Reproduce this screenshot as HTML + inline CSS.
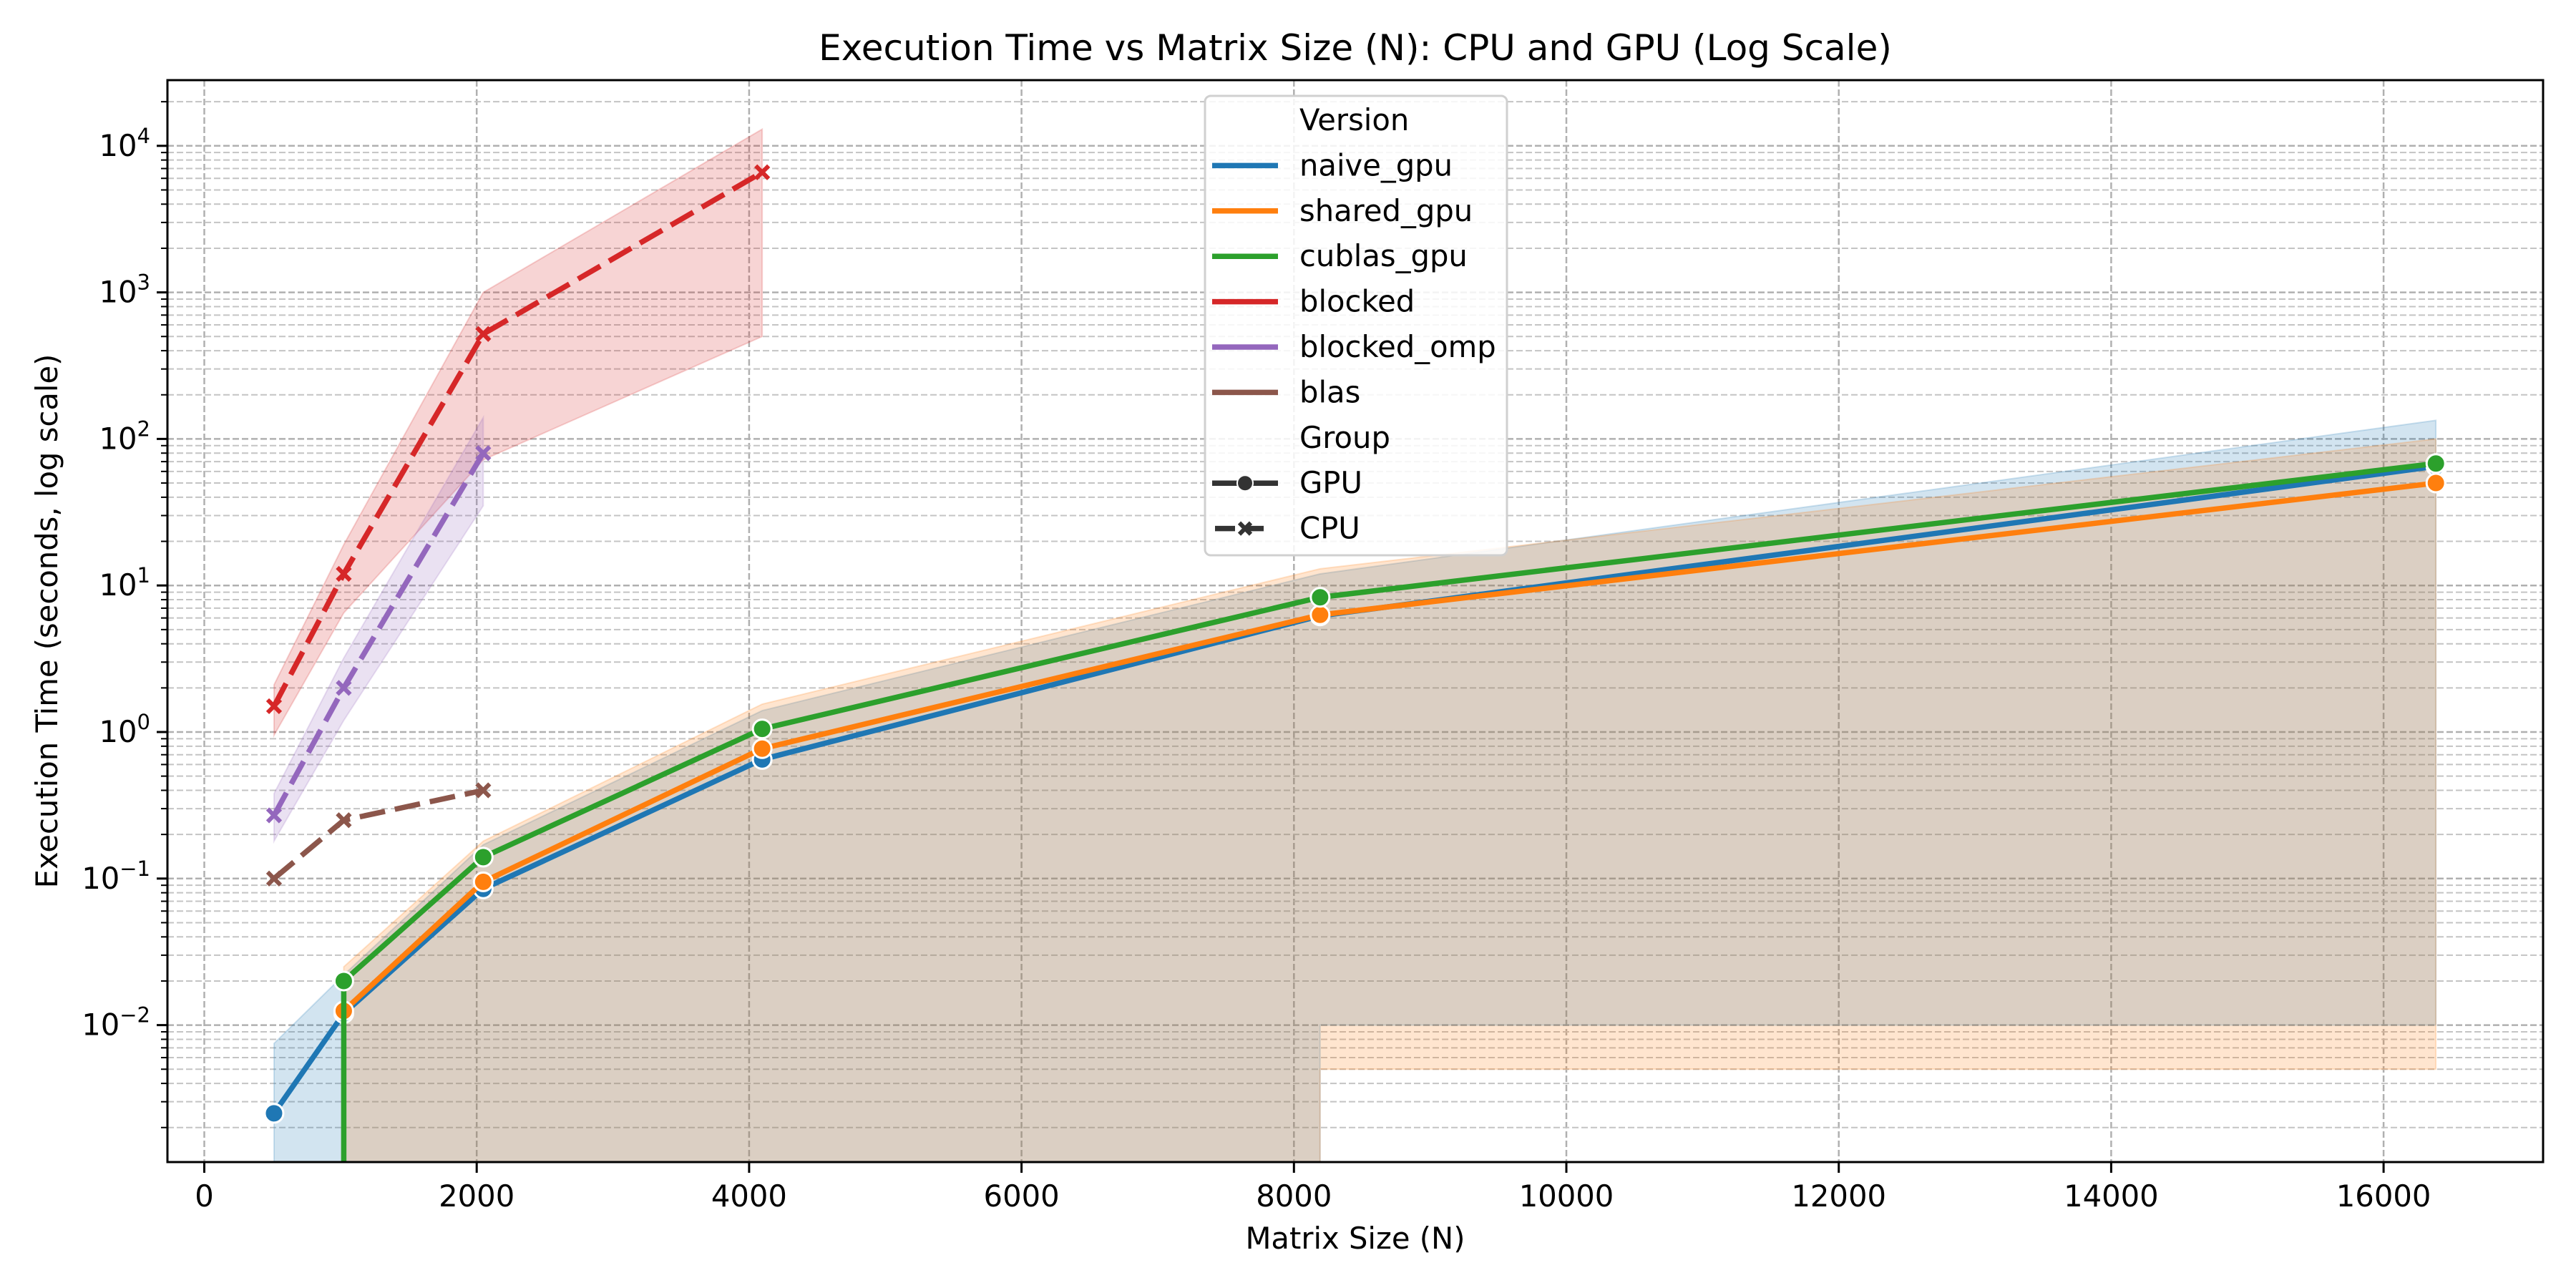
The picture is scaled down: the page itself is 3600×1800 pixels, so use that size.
<!DOCTYPE html>
<html><head><meta charset="utf-8"><style>
html,body{margin:0;padding:0;background:#fff;width:3600px;height:1800px;overflow:hidden;}
svg{display:block;font-family:"DejaVu Sans","Liberation Sans",sans-serif;}
</style></head>
<body>
<svg id="chart" width="3600" height="1800" viewBox="0 0 3600 1800" xmlns="http://www.w3.org/2000/svg">
<defs><clipPath id="plotclip"><rect x="234" y="112" width="3320" height="1512"/></clipPath></defs>
<text x="1894" y="84" font-size="50" text-anchor="middle">Execution Time vs Matrix Size (N): CPU and GPU (Log Scale)</text>
<g id="grid"></g>
<g id="bands" clip-path="url(#plotclip)"></g>
<g id="lines" clip-path="url(#plotclip)"></g>
<g id="axes"></g>
<text x="1894" y="1745" font-size="41.7" text-anchor="middle">Matrix Size (N)</text>
<text transform="translate(80,868) rotate(-90)" font-size="41.7" text-anchor="middle">Execution Time (seconds, log scale)</text>
<g id="legend"></g>
</svg>
<script>
const sizes = [512, 1024, 2048, 4096, 8192, 16384];
const naiveGpu = [0.0025, 0.012, 0.085, 0.65, 6.2, 65];
const naiveUpper = [0.0075, 0.022, 0.17, 1.4, 12, 134];
const naiveLower = [0, 0, 0, 0, 0.01, 0.01];
const sharedGpu = [null, 0.0125, 0.095, 0.77, 6.3, 50];
const sharedUpper = [null, 0.025, 0.18, 1.55, 13, 100];
const sharedLower = [null, 0, 0, 0, 0.005, 0.005];
const cublasGpu = [0, 0.02, 0.14, 1.05, 8.3, 68];
const cpuSizes = [512, 1024, 2048, 4096];
const blocked = [1.5, 12, 520, 6600];
const blockedUpper = [2.1, 19, 1000, 13000];
const blockedLower = [0.95, 6.5, 72, 500];
const blockedOmp = [0.27, 2.0, 80];
const blockedOmpUpper = [0.38, 3.2, 140];
const blockedOmpLower = [0.18, 1.2, 35];
const blas = [0.1, 0.25, 0.4];
const xTicks = [0, 2000, 4000, 6000, 8000, 10000, 12000, 14000, 16000];
const yExps = [-2, -1, 0, 1, 2, 3, 4];

const L=234, R=3554, T=112, B=1624;
const NS="http://www.w3.org/2000/svg";
function X(v){return 285.5 + v*0.19035;}
function Y(v){ if(v<=0) return 1e7; return 1023 - 204.8*Math.log10(v);}
function mk(tag, attrs, parent){const e=document.createElementNS(NS,tag);for(const k in attrs)e.setAttribute(k,attrs[k]);parent.appendChild(e);return e;}
const grid=document.getElementById('grid'), axes=document.getElementById('axes');
const bands=document.getElementById('bands'), lines=document.getElementById('lines'), legend=document.getElementById('legend');

for(const t of xTicks){
  const g=mk('line',{x1:X(t),x2:X(t),y1:T,y2:B,stroke:'#b0b0b0','stroke-width':2.5,'stroke-dasharray':'9,4'},grid);
  
  
  const tk=mk('line',{x1:X(t),x2:X(t),y1:B,y2:B+15,stroke:'#000','stroke-width':3},axes);
  
  
  const tx=mk('text',{x:X(t),y:B+62,'font-size':41.7,'text-anchor':'middle'},axes);
  tx.textContent=String(t);
  
  
}
for(let e=-3;e<=4;e++){
  for(let m=1;m<=9;m++){
    const v=m*Math.pow(10,e); const y=Y(v);
    if(y<T||y>B) continue;
    const g=mk('line',{x1:L,x2:R,y1:y,y2:y,stroke:m===1?'#b0b0b0':'#c4c4c4','stroke-width':m===1?2.5:2,'stroke-dasharray':'9,4'},grid);
    
    
    const tk=mk('line',{x1:L-(m===1?15:9),x2:L,y1:y,y2:y,stroke:'#000','stroke-width':m===1?3:2},axes);
    
    
  }
}
for(const e of yExps){
  const tx=mk('text',{x:L-24,y:Y(Math.pow(10,e))+14,'font-size':41.7,'text-anchor':'end'},axes);
  
  
  tx.innerHTML='10<tspan dy="-18" font-size="29">'+(e<0?'\u2212'+(-e):e)+'</tspan>';
}
mk('rect',{x:L,y:T,width:R-L,height:B-T,fill:'none',stroke:'#000','stroke-width':3},axes);

function band(xs,up,lo,color,name){
  const top=[],bot=[];
  xs.forEach((x,i)=>{ if(up[i]==null) return; top.push(X(x)+','+Y(up[i])); bot.unshift(X(x)+','+Y(lo[i]));});
  const p=mk('polygon',{points:top.concat(bot).join(' '),fill:color,'fill-opacity':0.2,stroke:color,'stroke-opacity':0.2,'stroke-width':2},bands);
  
  
}
band(sizes,naiveUpper,naiveLower,'#1f77b4','naive-gpu-band');
band(sizes,sharedUpper,sharedLower,'#ff7f0e','shared-gpu-band');
band(cpuSizes,blockedUpper,blockedLower,'#d62728','blocked-band');
band(cpuSizes.slice(0,3),blockedOmpUpper,blockedOmpLower,'#9467bd','blocked-omp-band');

function series(xs,vals,color,dashed,marker,name){
  const pts=[];
  xs.forEach((x,i)=>{ if(vals[i]==null) return; pts.push([X(x),Y(vals[i]),vals[i]]);});
  const pl=mk('polyline',{points:pts.map(p=>p[0]+','+p[1]).join(' '),fill:'none',stroke:color,'stroke-width':7.5,'stroke-linejoin':'round'},lines);
  if(dashed) pl.setAttribute('stroke-dasharray','36,14');
  
  
  for(const p of pts){
    if(p[2]<=0) continue;
    let m;
    if(marker==='o'){
      m=mk('circle',{cx:p[0],cy:p[1],r:13,fill:color,stroke:'#fff','stroke-width':3},lines);
    } else {
      const s=9;
      m=mk('path',{d:`M${p[0]-s},${p[1]-s}L${p[0]+s},${p[1]+s}M${p[0]-s},${p[1]+s}L${p[0]+s},${p[1]-s}`,stroke:color,'stroke-width':6,fill:'none'},lines);
    }
    
    
  }
}
series(sizes,naiveGpu,'#1f77b4',false,'o','naive-gpu');
series(sizes,sharedGpu,'#ff7f0e',false,'o','shared-gpu');
series(sizes,cublasGpu,'#2ca02c',false,'o','cublas-gpu');
series(cpuSizes,blocked,'#d62728',true,'x','blocked');
series(cpuSizes.slice(0,3),blockedOmp,'#9467bd',true,'x','blocked-omp');
series(cpuSizes.slice(0,3),blas,'#8c564b',true,'x','blas');

mk('rect',{x:1684,y:134,width:422,height:642,rx:8,fill:'#fff','fill-opacity':0.85,stroke:'#d0d0d0','stroke-width':3},legend);
const entries=[['Version',null,null],['naive_gpu','#1f77b4','l'],['shared_gpu','#ff7f0e','l'],['cublas_gpu','#2ca02c','l'],['blocked','#d62728','l'],['blocked_omp','#9467bd','l'],['blas','#8c564b','l'],['Group',null,null],['GPU','#333','o'],['CPU','#333','x']];
entries.forEach((e,i)=>{
  const y=168+i*63.4;
  const g=mk('g',{},legend);
  
  
  if(e[2]==='l') mk('line',{x1:1694,x2:1786,y1:y,y2:y,stroke:e[1],'stroke-width':7.5},g);
  if(e[2]==='o'){ mk('line',{x1:1694,x2:1786,y1:y,y2:y,stroke:e[1],'stroke-width':7.5},g); mk('circle',{cx:1740,cy:y,r:11,fill:e[1],stroke:'#fff','stroke-width':2},g);}
  if(e[2]==='x'){ mk('line',{x1:1698,x2:1778,y1:y,y2:y,stroke:e[1],'stroke-width':7.5,'stroke-dasharray':'28,12'},g); mk('path',{d:`M1732,${y-8}L1748,${y+8}M1732,${y+8}L1748,${y-8}`,stroke:e[1],'stroke-width':6},g);}
  const t=mk('text',{x:1816,y:y+14,'font-size':41.7},g);
  t.textContent=e[0];
});
</script>
</body></html>
